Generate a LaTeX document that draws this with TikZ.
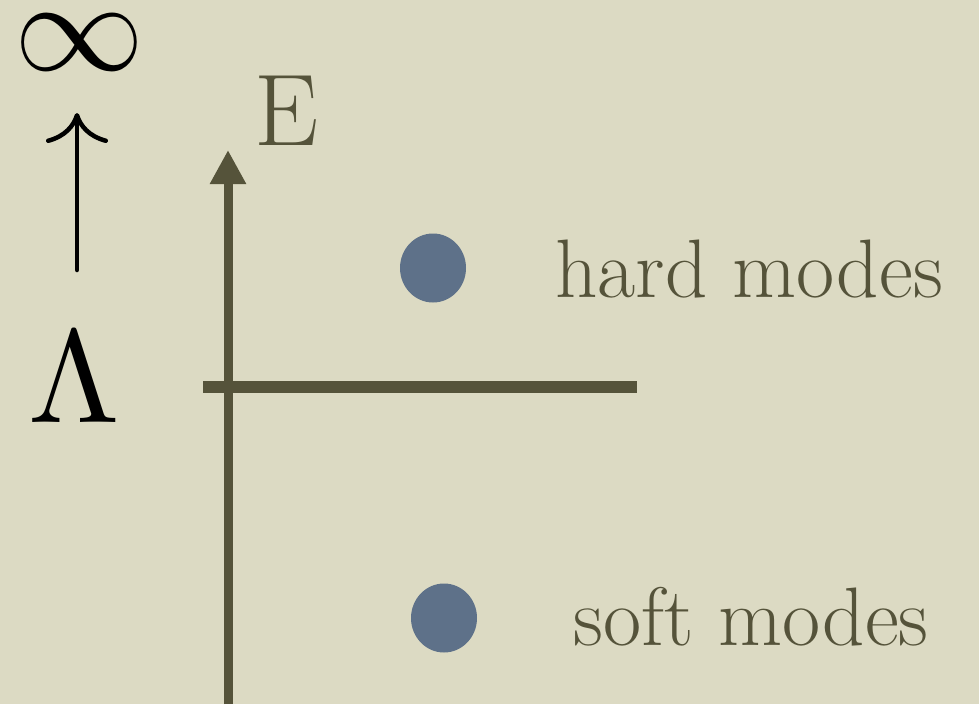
\documentclass[tikz,border=0pt]{standalone}
\usepackage{graphicx}
\usetikzlibrary{arrows.meta,shapes.geometric}
\definecolor{bg}{HTML}{DCDAC3}
\definecolor{olive}{HTML}{55533A}
\definecolor{dotblue}{HTML}{5E7189}
\tikzset{
  axisline/.style={draw=olive, line width=9pt},
  cutline/.style={draw=olive, line width=12pt},
  modedot/.style={ellipse, fill=dotblue, minimum width=66pt, minimum height=69pt, inner sep=0pt},
  modetext/.style={text=olive, anchor=base west, inner sep=0pt, font=\fontsize{83}{86}\selectfont},
  bigsym/.style={text=black, inner sep=0pt},
  uparr/.style={draw=black, line width=4.5pt, line cap=round, -{Computer Modern Rightarrow[length=30pt,width=62pt,line width=4.5pt]}}
}
\begin{document}
\begin{tikzpicture}[x=1pt,y=-1pt]
\fill[bg] (0,0) rectangle (979,704);
\useasboundingbox (0,0) rectangle (979,704);
% left scale
\node[bigsym] (inf) at (79,43) {\scalebox{13}{$\infty$}};
\node[bigsym, anchor=base] (lam) at (74,422) {\scalebox{13.2}{$\Lambda$}};
\coordinate (upbot) at (77,270);
\coordinate (uptop) at (77,113);
\draw[uparr] (upbot) -- (uptop);
% axis
\coordinate (axbot) at (228,704);
\coordinate (axtop) at (228,150);
\draw[axisline, -{Triangle[length=34pt,width=34pt]}] (axbot) -- (axtop);
\node[text=olive, anchor=base west, inner sep=0pt, font=\fontsize{102}{104}\selectfont] (E) at (254,145) {E};
\coordinate (cutL) at (203,386.5);
\coordinate (cutR) at (637,386.5);
\draw[cutline] (cutL) -- (cutR);
% modes
\node[modedot] (hard) at (433,268) {};
\node[modetext] (hardt) at (555,297) {hard modes};
\node[modedot] (soft) at (444,618) {};
\node[modetext] (softt) at (573,645) {soft modes};
\end{tikzpicture}
\end{document}
